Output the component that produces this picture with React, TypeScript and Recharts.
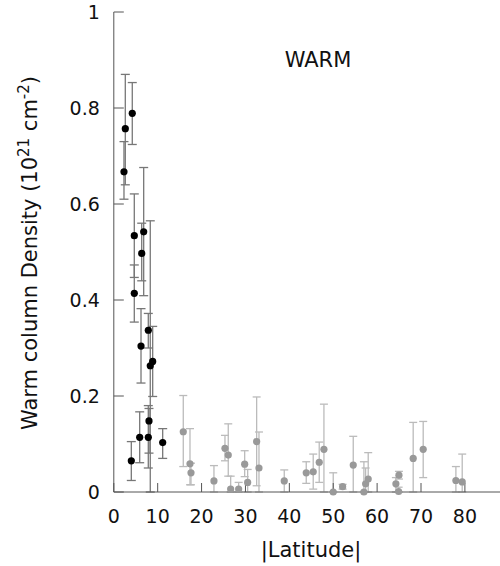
import { ScatterChart, Scatter, XAxis, YAxis, ErrorBar, Label } from "recharts";

const FONT = "DejaVu Sans, Verdana, sans-serif";

// low-latitude points (black)
const darkLat = [2.32, 2.62, 4.21, 4.67, 6.81, 6.36, 4.67, 7.86, 6.2, 8.86, 8.31, 8.02, 7.86, 5.9, 3.99, 11.14];
const darkVal = [0.667, 0.757, 0.789, 0.534, 0.542, 0.497, 0.414, 0.337, 0.304, 0.272, 0.263, 0.148, 0.114, 0.114, 0.065, 0.103];
const darkLo = [0.61, 0.64, 0.724, 0.447, 0.409, 0.44, 0.354, 0.3, 0.227, 0.199, 0.0, 0.081, 0.05, 0.061, 0.024, 0.07];
const darkHi = [0.73, 0.87, 0.853, 0.621, 0.676, 0.56, 0.473, 0.372, 0.382, 0.345, 0.565, 0.174, 0.18, 0.167, 0.105, 0.132];

// higher-latitude points (grey)
const greyLat = [15.83, 17.36, 17.59, 22.82, 25.33, 26.08, 26.63, 28.45, 29.82, 30.5, 32.55, 33.08, 38.84, 43.85, 45.44, 46.81, 47.88, 50.0, 52.14, 54.56, 56.99, 57.38, 57.97, 64.28, 64.97, 64.9, 68.22, 70.5, 77.95, 79.39];
const greyVal = [0.1255, 0.0586, 0.04, 0.023, 0.091, 0.077, 0.006, 0.006, 0.058, 0.02, 0.105, 0.05, 0.023, 0.04, 0.042, 0.062, 0.089, 0.0, 0.011, 0.056, 0.0, 0.017, 0.027, 0.017, 0.035, 0.001, 0.07, 0.089, 0.024, 0.021];
const greyLo = [0.053, 0.015, 0.015, 0, 0.065, 0.033, 0, 0, 0.032, 0, 0.013, 0, 0, 0.018, 0.006, 0.02, 0, 0, 0.006, 0, 0, 0, 0, 0, 0.027, 0, 0, 0.03, 0, 0];
const greyHi = [0.201, 0.132, 0.06, 0.055, 0.118, 0.142, 0.033, 0.02, 0.086, 0.047, 0.198, 0.125, 0.046, 0.063, 0.079, 0.104, 0.183, 0.04, 0.016, 0.116, 0.063, 0.05, 0.082, 0.03, 0.043, 0.01, 0.145, 0.147, 0.053, 0.079];

const xTicks = [0, 10, 20, 30, 40, 50, 60, 70, 80];
const yTicks = [0, 0.2, 0.4, 0.6, 0.8, 1];

const build = (lat: number[], val: number[], lo: number[], hi: number[]) =>
  lat.map((x, i) => ({ lat: x, val: val[i], err: [val[i] - lo[i], hi[i] - val[i]] }));

const darkData = build(darkLat, darkVal, darkLo, darkHi);
const greyData = build(greyLat, greyVal, greyLo, greyHi);

const dot = (fill: string) => (p: any) => <circle cx={p.cx} cy={p.cy} r={3.6} fill={fill} />;

const YTitle = () => (
  <text x={37} y={253} transform="rotate(-90 37 253)" textAnchor="middle" fontFamily={FONT} fontSize={21} fill="#111">
    <tspan>Warm column Density (10</tspan>
    <tspan dy={-8} fontSize={15}>21</tspan>
    <tspan dy={8}> cm</tspan>
    <tspan dy={-8} fontSize={15}>-2</tspan>
    <tspan dy={8}>)</tspan>
  </text>
);

const XTitle = () => (
  <g fontFamily={FONT} fill="#111">
    <text x={311} y={556.5} textAnchor="middle" fontSize={21}>|Latitude|</text>
    <text x={318} y={67} textAnchor="middle" fontSize={21}>WARM</text>
  </g>
);

export default function App() {
  return (
    <div style={{ position: "absolute", left: 0, top: 0 }}>
      <ScatterChart width={500} height={566} margin={{ top: 12, right: 0, left: 0, bottom: 0 }}>
        <XAxis
          type="number"
          dataKey="lat"
          domain={[0, 88]}
          ticks={xTicks}
          allowDataOverflow
          height={74}
          tickSize={-9}
          tickMargin={27}
          stroke="#555"
          tick={{ fontFamily: FONT, fontSize: 19, fill: "#111" }}
        >
          <Label content={XTitle} />
        </XAxis>
        <YAxis
          type="number"
          dataKey="val"
          domain={[0, 1]}
          ticks={yTicks}
          width={113.8}
          tickSize={-10}
          tickMargin={24}
          stroke="#555"
          tick={{ fontFamily: FONT, fontSize: 19, fill: "#111" }}
        >
          <Label content={YTitle} />
        </YAxis>
        <Scatter data={greyData} shape={dot("#999")} isAnimationActive={false}>
          <ErrorBar dataKey="err" direction="y" width={4} stroke="#bbb" strokeWidth={1.3} />
        </Scatter>
        <Scatter data={darkData} shape={dot("#000")} isAnimationActive={false}>
          <ErrorBar dataKey="err" direction="y" width={4.5} stroke="#777" strokeWidth={1.3} />
        </Scatter>
      </ScatterChart>
    </div>
  );
}
